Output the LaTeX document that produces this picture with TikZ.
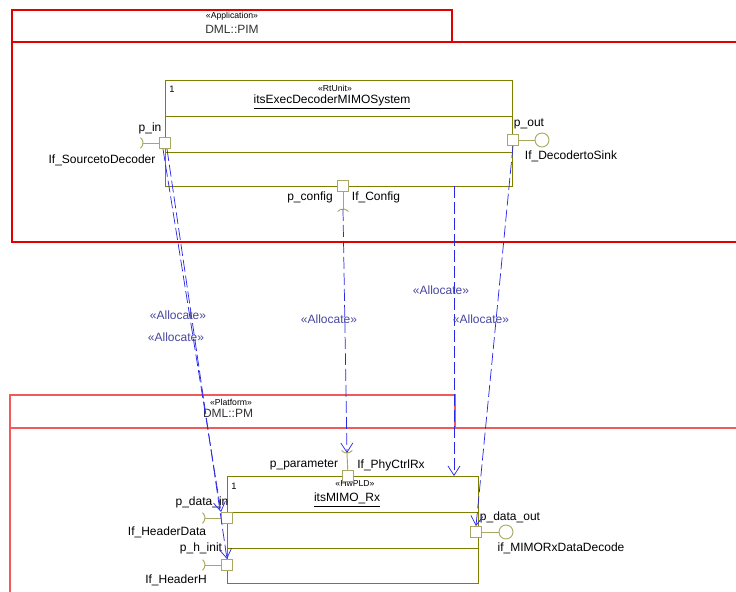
\documentclass[tikz,border=0pt]{standalone}
\usepackage{fontspec}
\setmainfont{Liberation Sans}
\usepackage{tikz}
\usetikzlibrary{arrows.meta,positioning,calc,fit}

\definecolor{pkgred}{RGB}{224,0,0}
\definecolor{pkgpink}{RGB}{240,90,90}
\definecolor{partol}{RGB}{128,128,0}
\definecolor{portol}{RGB}{168,168,96}
\definecolor{allocblue}{RGB}{40,40,230}
\definecolor{alloctxt}{RGB}{70,70,160}

\begin{document}
\begin{tikzpicture}[x=0.75pt, y=-0.75pt,
    lbl/.style={font=\fontsize{9}{10}\selectfont, inner sep=0},
    stereo/.style={font=\fontsize{6.5}{7}\selectfont, inner sep=0},
    mult/.style={font=\fontsize{7}{8}\selectfont, inner sep=0},
    part/.style={draw=partol, line width=0.6pt, inner sep=0},
    partline/.style={draw=partol, line width=0.6pt},
    port/.style={rectangle, draw=portol, fill=white, line width=0.7pt, minimum size=8.25pt, inner sep=0},
    ball/.style={circle, draw=portol, line width=0.7pt, minimum size=10.5pt, inner sep=0},
    iface/.style={draw=portol, line width=0.7pt},
    alloc/.style={draw=allocblue, line width=0.55pt, dash pattern=on 9pt off 3pt, -{Straight Barb[length=7pt,width=9pt]}},
    alloclbl/.style={lbl, text=alloctxt}
]
\useasboundingbox (0,0) rectangle (736,592);

% Application package
\draw[pkgred, line width=2.2pt] (12,42) rectangle (452,10);
\draw[pkgred, line width=2.2pt] (736,42) -- (12,42) -- (12,242) -- (736,242);
\node[stereo] (appStereo) at (232,16) {«Application»};
\node[lbl, text=black!80] (appName) at (232,29) {DML::PIM};

% Platform package
\draw[pkgpink, line width=1pt] (10,428) rectangle (455,395);
\draw[pkgpink, line width=1pt] (736,428) -- (10,428) -- (10,592);
\node[stereo] (pmStereo) at (231,402) {«Platform»};
\node[lbl, text=black!80] (pmName) at (228,413) {DML::PM};

% Decoder system part
\node[part, fit={(165,80) (512,186)}] (exec) {};
\draw[partline] (165,116) -- (512,116);
\draw[partline] (165,152) -- (512,152);
\node[mult] (execMult) at (172,89) {1};
\node[stereo] (execStereo) at (335,88) {«RtUnit»};
\node[lbl] (execName) at (332,102) {\underline{itsExecDecoderMIMOSystem}};

% Decoder ports
\node[port] (pin) at (165,143) {};
\node[port] (pout) at (513,140) {};
\node[port] (pconfig) at (343,186) {};

% Decoder interfaces
\coordinate (sockIn) at (143,143);
\draw[iface] (pin) -- (sockIn);
\draw[iface] ($(sockIn)+(-7,0)$) ++(50:7) arc[start angle=50, end angle=-50, radius=7];
\node[ball] (sinkBall) at (542,140) {};
\draw[iface] (pout) -- (sinkBall);
\coordinate (sockConfig) at (343,209);
\draw[iface] (pconfig) -- (sockConfig);
\draw[iface] ($(sockConfig)+(0,7)$) ++(-140:7) arc[start angle=-140, end angle=-40, radius=7];

\node[lbl] (pinLbl) at (150,128) {p\_in};
\node[lbl] (srcLbl) at (102,160) {If\_SourcetoDecoder};
\node[lbl] (poutLbl) at (529,124) {p\_out};
\node[lbl] (sinkLbl) at (571,156) {If\_DecodertoSink};
\node[lbl] (pconfigLbl) at (310,197) {p\_config};
\node[lbl] (configLbl) at (376,197) {If\_Config};

% MIMO receiver part
\node[part, fit={(227,476) (478,583)}] (mimo) {};
\draw[partline] (227,512) -- (478,512);
\draw[partline] (227,548) -- (478,548);
\node[mult] (mimoMult) at (234,486) {1};
\node[stereo] (mimoStereo) at (355,484) {«HwPLD»};
\node[lbl] (mimoName) at (347,500) {\underline{itsMIMO\_Rx}};

% MIMO ports
\node[port] (pparam) at (348,476) {};
\node[port] (pdin) at (227,518) {};
\node[port] (phinit) at (227,565) {};
\node[port] (pdout) at (476,532) {};

% MIMO interfaces
\coordinate (sockParam) at (347,453);
\draw[iface] (pparam) -- (sockParam);
\draw[iface] ($(sockParam)+(0,-7)$) ++(40:7) arc[start angle=40, end angle=140, radius=7];
\coordinate (sockHData) at (205,518);
\draw[iface] (pdin) -- (sockHData);
\draw[iface] ($(sockHData)+(-7,0)$) ++(50:7) arc[start angle=50, end angle=-50, radius=7];
\coordinate (sockHH) at (205,565);
\draw[iface] (phinit) -- (sockHH);
\draw[iface] ($(sockHH)+(-7,0)$) ++(50:7) arc[start angle=50, end angle=-50, radius=7];
\node[ball] (decodeBall) at (506,532) {};
\draw[iface] (pdout) -- (decodeBall);

\node[lbl] (pparamLbl) at (304,465) {p\_parameter};
\node[lbl] (ctrlLbl) at (391,465) {If\_PhyCtrlRx};
\node[lbl] (pdinLbl) at (202,502) {p\_data\_in};
\node[lbl] (hdataLbl) at (167,532) {If\_HeaderData};
\node[lbl] (phinitLbl) at (201,548) {p\_h\_init};
\node[lbl] (hhLbl) at (176,580) {If\_HeaderH};
\node[lbl] (pdoutLbl) at (510,517) {p\_data\_out};
\node[lbl] (decodeLbl) at (561,548) {if\_MIMORxDataDecode};

% Allocations
\coordinate (execAlloc) at (454,186);
\coordinate (mimoAlloc) at (454,476);
\draw[alloc] ([xshift=-1.5pt]pin.south) -- (pdin.north west);
\draw[alloc] ([xshift=1.5pt]pin.south) -- (phinit.north);
\draw[alloc] (sockConfig) -- (sockParam);
\draw[alloc] (execAlloc) -- (mimoAlloc);
\draw[alloc] (pout.south) -- (pdout.north);

\node[alloclbl] (allocA) at (178,315) {«Allocate»};
\node[alloclbl] (allocB) at (176,337) {«Allocate»};
\node[alloclbl] (allocC) at (329,319) {«Allocate»};
\node[alloclbl] (allocD) at (441,290) {«Allocate»};
\node[alloclbl] (allocE) at (481,319) {«Allocate»};

\end{tikzpicture}
\end{document}
